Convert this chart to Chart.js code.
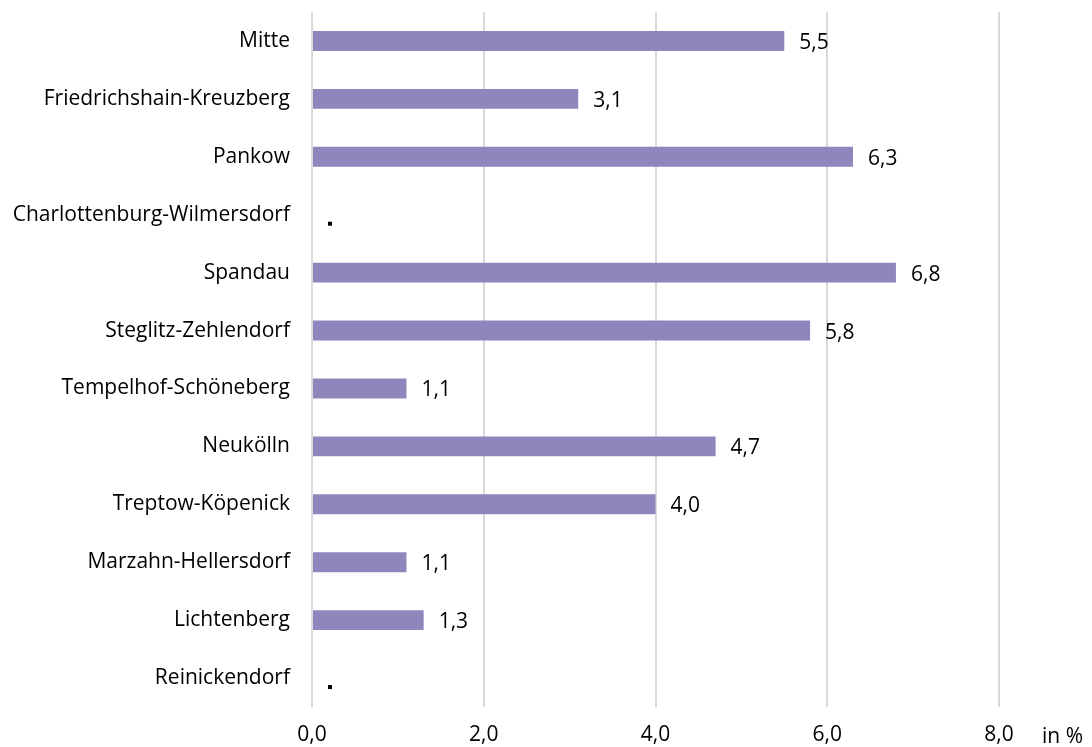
<!DOCTYPE html>
<html>
<head>
<meta charset="utf-8">
<script src="https://cdn.jsdelivr.net/npm/chart.js@4"></script>
<style>
  html, body { margin: 0; padding: 0; background: #fff; }
  #wrap { width: 1092px; height: 747px; }
</style>
</head>
<body>
<div id="wrap"><canvas id="chart" width="1092" height="747"></canvas></div>
<script>
const districts = [
    'Mitte', 'Friedrichshain-Kreuzberg', 'Pankow', 'Charlottenburg-Wilmersdorf',
    'Spandau', 'Steglitz-Zehlendorf', 'Tempelhof-Schöneberg', 'Neukölln',
    'Treptow-Köpenick', 'Marzahn-Hellersdorf', 'Lichtenberg', 'Reinickendorf'
];
const values = [5.5, 3.1, 6.3, null, 6.8, 5.8, 1.1, 4.7, 4.0, 1.1, 1.3, null];
const xTicks = [0, 2, 4, 6, 8];
const unitLabel = 'in %';

const FONT = '"Open Sans", sans-serif';
const FONT_SIZE = 21;
const fmt = v => v.toFixed(1).replace('.', ',');

// value labels at the bar ends, a bold dot where there is no value
const valueLabels = {
    id: 'valueLabels',
    afterDatasetsDraw(chart) {
        const ctx = chart.ctx;
        const meta = chart.getDatasetMeta(0);
        const x0 = chart.scales.x.getPixelForValue(0);
        ctx.save();
        ctx.font = FONT_SIZE + 'px ' + FONT;
        ctx.fillStyle = '#000';
        ctx.textAlign = 'left';
        ctx.textBaseline = 'middle';
        meta.data.forEach((bar, i) => {
            const v = values[i];
            if (v === null) {
                ctx.fillRect(x0 + 16, bar.y + 7, 4, 4);
            } else {
                ctx.fillText(fmt(v), bar.x + 15, bar.y + 2);
            }
        });
        // unit label next to the axis
        ctx.fillText(unitLabel, 1042, 737);
        ctx.restore();
    }
};

new Chart(document.getElementById('chart'), {
    type: 'bar',
    data: {
        labels: districts,
        datasets: [{
            data: values,
            backgroundColor: '#8f86bd',
            borderWidth: 0,
            categoryPercentage: 1.0,
            barPercentage: 0.345
        }]
    },
    options: {
        indexAxis: 'y',
        responsive: false,
        animation: false,
        layout: { padding: { top: 12, right: 93, left: 0, bottom: 0 } },
        plugins: {
            legend: { display: false },
            tooltip: { enabled: false }
        },
        scales: {
            x: {
                min: 0,
                max: 8,
                afterBuildTicks: axis => { axis.ticks = xTicks.map(v => ({ value: v })); },
                afterFit: axis => { axis.height = 40; axis.paddingLeft = 0; axis.paddingRight = 0; },
                border: { display: false },
                grid: { color: '#d9d9d9', lineWidth: 2, drawTicks: false },
                ticks: {
                    padding: 15,
                    color: '#000',
                    font: { family: FONT, size: FONT_SIZE },
                    callback: v => fmt(v)
                }
            },
            y: {
                afterFit: axis => { axis.width = 312; axis.paddingTop = 0; axis.paddingBottom = 0; },
                border: { display: false },
                grid: { display: false, drawTicks: false },
                ticks: {
                    padding: 22,
                    color: '#000',
                    font: { family: FONT, size: FONT_SIZE }
                }
            }
        }
    },
    plugins: [valueLabels]
});
</script>
</body>
</html>
